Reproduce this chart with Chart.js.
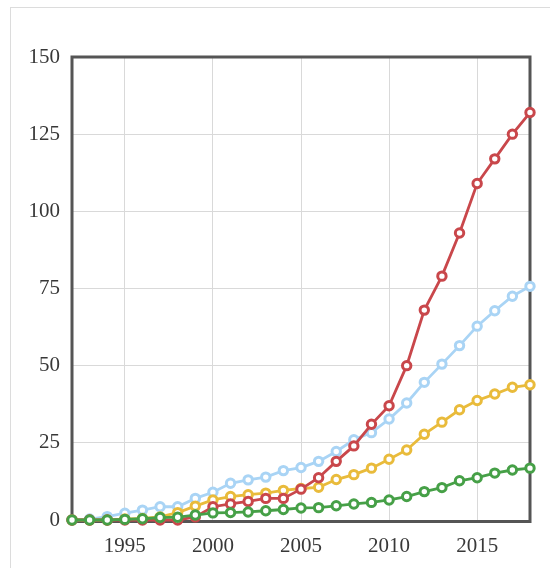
<!DOCTYPE html>
<html>
<head>
<meta charset="utf-8">
<script src="https://cdn.jsdelivr.net/npm/chart.js@4/dist/chart.umd.min.js"></script>
<style>
  html, body { margin: 0; padding: 0; background: #fff; }
  #card { position: absolute; left: 10px; top: 7px; width: 560px; height: 580px;
          border-left: 1px solid #dcdcdc; border-top: 1px solid #dcdcdc; }
  #wrap { position: absolute; left: 0; top: 0; width: 550px; height: 568px; }
</style>
</head>
<body>
<div id="card"></div>
<div id="wrap"><canvas id="c" width="550" height="568"></canvas></div>
<script>
const years = [1992,1993,1994,1995,1996,1997,1998,1999,2000,2001,2002,2003,2004,2005,2006,2007,2008,2009,2010,2011,2012,2013,2014,2015,2016,2017,2018];
const redValues    = [0,0,0,0,0,0,0,1,4.3,5.2,6,7,7,10,13.7,19,24,31,37,50,68,79,93,109,117,125,132];
const blueValues   = [0,0.3,1.1,2.2,3.2,4.3,4.3,7,9,11.9,13,13.9,16,17,19,22.2,26,28.3,32.7,37.9,44.6,50.5,56.5,62.8,67.8,72.5,75.7];
const yellowValues = [0,0,0,0.3,0.5,1,2.4,4.5,6.5,7.6,8.2,8.7,9.6,10.2,10.6,13.1,14.7,16.8,19.7,22.7,27.8,31.7,35.7,38.7,40.8,43,43.8];
const greenValues  = [0,0,0,0.2,0.4,0.8,0.9,1.6,2.3,2.4,2.6,3,3.4,3.9,4,4.6,5.2,5.7,6.5,7.6,9.2,10.5,12.7,13.7,15.2,16.2,16.8];
const xTicks = [1995,2000,2005,2010,2015];
const yTicks = [0,25,50,75,100,125,150];

function pts(vals) { return years.map((y, i) => ({ x: y, y: vals[i] })); }
function ds(vals, color) {
  return {
    data: pts(vals),
    borderColor: color,
    backgroundColor: '#ffffff',
    pointBackgroundColor: '#ffffff',
    pointBorderColor: color,
    pointRadius: 4.2,
    pointBorderWidth: 3,
    borderWidth: 2.8,
    tension: 0,
    clip: false
  };
}

const frame = {
  id: 'frame',
  beforeDatasetsDraw(chart) {
    const a = chart.chartArea, ctx = chart.ctx;
    ctx.save();
    ctx.strokeStyle = '#555555';
    ctx.lineWidth = 3;
    ctx.strokeRect(a.left, a.top, a.right - a.left, a.bottom - a.top + 1.5);
    ctx.restore();
  }
};

new Chart(document.getElementById('c'), {
  type: 'line',
  data: {
    datasets: [
      ds(greenValues, '#46a047'),
      ds(redValues, '#c9474b'),
      ds(yellowValues, '#e9bb3b'),
      ds(blueValues, '#a9d4f5')
    ]
  },
  options: {
    responsive: false,
    animation: false,
    devicePixelRatio: 1,
    layout: { padding: { left: 0, top: 57, right: 20, bottom: 0 } },
    plugins: { legend: { display: false }, tooltip: { enabled: false } },
    scales: {
      x: {
        type: 'linear',
        min: years[0],
        max: years[years.length - 1],
        afterBuildTicks(scale) { scale.ticks = xTicks.map(v => ({ value: v })); },
        afterFit(scale) { scale.height = 48; },
        grid: { color: '#d9d9d9', lineWidth: 1, drawTicks: false },
        border: { display: false },
        ticks: {
          color: '#383838',
          padding: 14,
          maxRotation: 0,
          font: { family: 'Liberation Serif', size: 21 },
          callback: v => String(v)
        }
      },
      y: {
        min: 0,
        max: 150,
        afterBuildTicks(scale) { scale.ticks = yTicks.map(v => ({ value: v })); },
        afterFit(scale) { scale.width = 72; },
        grid: { color: '#d9d9d9', lineWidth: 1, drawTicks: false },
        border: { display: false },
        ticks: {
          color: '#383838',
          padding: 12,
          font: { family: 'Liberation Serif', size: 21 },
          callback: v => String(v)
        }
      }
    }
  },
  plugins: [frame]
});
</script>
</body>
</html>
